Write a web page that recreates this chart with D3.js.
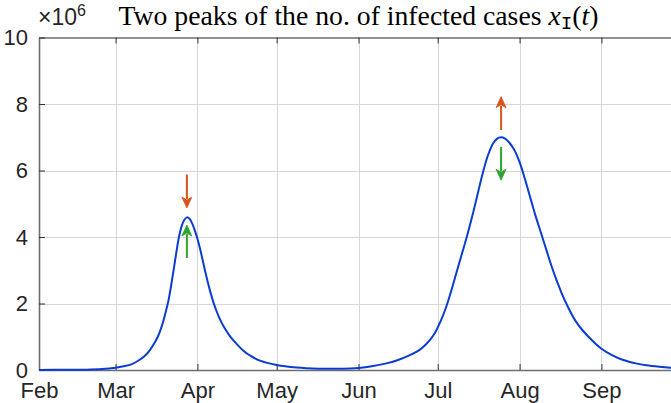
<!DOCTYPE html>
<html><head><meta charset="utf-8">
<script src="https://cdn.jsdelivr.net/npm/d3@7"></script>
<style>
html,body{margin:0;padding:0;background:#fff;}
svg{display:block;}
</style></head>
<body>
<svg id="chart" width="671" height="403"></svg>
<script>
// ---- data ----
const startDate = "2020-02-01";
const endDate = "2020-09-30";
// days since 2020-02-01
const days = [0,10,18,24,29,32,35,38,40,42,44,45,46,47,48,49,50,51,52,53,54,55,56,57,58,59,60,61,62,63,64,65,66,67,68,69,70,72.3,75,77.4,80,83.7,90,97.6,106,112,118,121,126,131.6,136,140,144,146,148,150,152,154,156,158,160,162,164,166,168,170,172,173.5,175,176.5,178,180,182,184,186,188,190,192,194,196,198,200,203,206,210,213,217,221,226,230,235,239,242];
// infected cases, in units of 1e6
const infected = [0.003,0.005,0.01,0.03,0.07,0.11,0.17,0.3,0.42,0.6,0.85,1.0,1.2,1.45,1.75,2.08,2.52,3.02,3.53,4.0,4.32,4.51,4.59,4.55,4.41,4.2,3.95,3.65,3.3,2.95,2.62,2.32,2.05,1.82,1.62,1.45,1.3,1.02,0.77,0.58,0.43,0.28,0.15,0.075,0.04,0.035,0.045,0.06,0.11,0.2,0.3,0.43,0.6,0.73,0.9,1.12,1.45,1.85,2.35,2.9,3.45,4.0,4.6,5.25,5.9,6.45,6.82,6.96,7.0,6.96,6.85,6.62,6.25,5.75,5.2,4.65,4.15,3.65,3.15,2.7,2.3,1.95,1.5,1.18,0.85,0.64,0.45,0.31,0.2,0.14,0.095,0.07,0.06];
const tickMonths = ["2020-02-01","2020-03-01","2020-04-01","2020-05-01","2020-06-01","2020-07-01","2020-08-01","2020-09-01"];
const tickMonthLabels = ["Feb","Mar","Apr","May","Jun","Jul","Aug","Sep"];
const yTicks = [0,2,4,6,8,10];
// arrows: day, from value, to value
const redArrowDays = [56, 175];
const redArrowFrom = [5.88, 7.22];
const redArrowTo = [4.87, 8.22];
const greenArrowDays = [56, 175];
const greenArrowFrom = [3.37, 6.71];
const greenArrowTo = [4.36, 5.71];

// ---- layout ----
const svg = d3.select("#chart");
const L = 39, R = 678, T = 37.5, B = 370;
const parse = d3.timeParse("%Y-%m-%d");
const t0 = parse(startDate);
const dayToDate = d => new Date(t0.getTime() + d * 864e5);
const x = d3.scaleTime().domain([t0, parse(endDate)]).range([L, R]);
const y = d3.scaleLinear().domain([0, 10]).range([B, T]);

const font = "'Liberation Sans', Arial, Helvetica, sans-serif";
const textCol = "#262626";
const tickFs = "22px";

// grid
const g = svg.append("g");
g.selectAll("line.vg").data(tickMonths.slice(1)).join("line")
  .attr("x1", d => Math.round(x(parse(d))) + 0.5).attr("x2", d => Math.round(x(parse(d))) + 0.5)
  .attr("y1", T).attr("y2", B).attr("stroke", "#d6d6d6").attr("stroke-width", 1);
g.selectAll("line.hg").data(yTicks.slice(1, -1)).join("line")
  .attr("x1", L).attr("x2", R)
  .attr("y1", d => Math.round(y(d)) + 0.5).attr("y2", d => Math.round(y(d)) + 0.5)
  .attr("stroke", "#d6d6d6").attr("stroke-width", 1.2);

// axes via d3
const xAxis = d3.axisBottom(x).tickValues(tickMonths.map(parse))
  .tickFormat((d, i) => tickMonthLabels[i]).tickSizeInner(-6).tickSizeOuter(0).tickPadding(12);
const gx = svg.append("g").attr("transform", `translate(0,${B})`).call(xAxis);
const xAxisTop = d3.axisTop(x).tickValues(tickMonths.map(parse)).tickFormat("").tickSizeInner(-6).tickSizeOuter(0);
const gxt = svg.append("g").attr("transform", `translate(0,${T})`).call(xAxisTop);
const yAxis = d3.axisLeft(y).tickValues(yTicks).tickFormat(d3.format("d")).tickSizeInner(-6).tickSizeOuter(0).tickPadding(11);
const gy = svg.append("g").attr("transform", `translate(${L},0)`).call(yAxis);

[gx, gy, gxt].forEach(a => {
  a.attr("font-size", null).attr("font-family", null);
  a.selectAll("text").style("font-family", font).style("font-size", tickFs).attr("fill", textCol);
  a.selectAll(".tick line").attr("stroke", "#333").attr("stroke-width", 1);
});
gx.select(".domain").attr("stroke", "#6e6e6e").attr("stroke-width", 1.6);
gy.select(".domain").attr("stroke", "#6e6e6e").attr("stroke-width", 1.6);
gxt.select(".domain").attr("stroke", "#262626").attr("stroke-width", 1);
gx.selectAll("text").attr("dy", "0.71em").attr("y", 12);

// curve
const pts = days.map((d, i) => [dayToDate(d), infected[i]]);
const line = d3.line().x(d => x(d[0])).y(d => y(d[1])).curve(d3.curveCatmullRom.alpha(0.5));
svg.append("path").datum(pts).attr("d", line)
  .attr("fill", "none").attr("stroke", "#0a3cd2").attr("stroke-width", 2);

// arrows
function arrow(day, v0, v1, col) {
  const xa = x(dayToDate(day)), ya0 = y(v0), ya1 = y(v1);
  const dir = Math.sign(ya1 - ya0);
  const headL = 11, headW = 5;
  const yb = ya1 - dir * headL;
  svg.append("line").attr("x1", xa).attr("x2", xa).attr("y1", ya0).attr("y2", yb + dir * 2)
    .attr("stroke", col).attr("stroke-width", 2);
  svg.append("path")
    .attr("d", `M${xa},${ya1} L${xa - headW},${yb} L${xa},${yb + dir * 3} L${xa + headW},${yb} Z`)
    .attr("fill", col).attr("stroke", col).attr("stroke-width", 0.8).attr("stroke-linejoin", "round");
}
redArrowDays.forEach((d, i) => arrow(d, redArrowFrom[i], redArrowTo[i], "#d9531a"));
greenArrowDays.forEach((d, i) => arrow(d, greenArrowFrom[i], greenArrowTo[i], "#2ea32e"));

// exponent label
const ex = svg.append("text").attr("x", L - 1).attr("y", 25)
  .style("font-family", font).style("font-size", "23px").attr("fill", textCol);
ex.append("tspan").text("\u00d710");
ex.append("tspan").style("font-size", "16px").attr("dy", -9).text("6");

// title
const serif = "'Liberation Serif', 'DejaVu Serif', serif";
const title = svg.append("text").attr("y", 25).style("font-family", serif).style("font-size", "23px").attr("fill", "#000");
title.append("tspan").text("Two peaks of the no. of infected cases ");
title.append("tspan").style("font-style", "italic").text("x");
title.append("tspan").attr("class", "sub").style("font-family", "'Liberation Mono', 'DejaVu Sans Mono', monospace").style("font-size", "16px").attr("dy", 4).text("I");
title.append("tspan").attr("dy", -4).text("(");
title.append("tspan").style("font-style", "italic").text("t");
title.append("tspan").text(")");
// fit title to the reference's span (centered over the axes)
const targetW = 480;
let w = title.node().getComputedTextLength();
const fs = 23 * targetW / w;
title.style("font-size", fs + "px");
title.select("tspan.sub").style("font-size", (fs * 16 / 23) + "px");
w = title.node().getBBox().width;
title.attr("x", (L + R) / 2 - w / 2);
</script>
</body></html>
